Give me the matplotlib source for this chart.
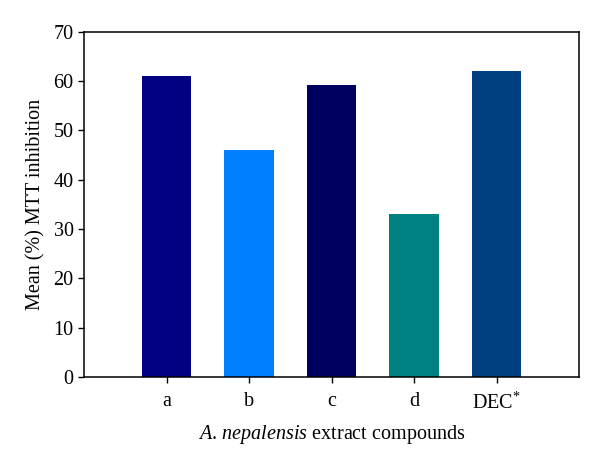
import matplotlib.pyplot as plt

compounds = ["a", "b", "c", "d", "DEC$^{*}$"]
inhibition = [61.0, 46.0, 59.2, 33.0, 62.0]
bar_colors = ["#000080", "#0080ff", "#000060", "#008080", "#004080"]

plt.rcParams["font.family"] = ["Liberation Serif", "DejaVu Serif"]
plt.rcParams["mathtext.fontset"] = "custom"
plt.rcParams["mathtext.rm"] = "Liberation Serif"
plt.rcParams["mathtext.it"] = "Liberation Serif:italic"

fig = plt.figure(figsize=(6, 4.62), dpi=100)
ax = fig.add_axes([0.14, 0.184, 0.825, 0.747])

x = list(range(1, len(compounds) + 1))
ax.bar(x, inhibition, width=0.6, color=bar_colors)

ax.set_xlim(0, 6)
ax.set_ylim(0, 70)
ax.set_yticks(range(0, 71, 10))
ax.set_xticks(x)
ax.set_xticklabels(compounds)

ax.tick_params(axis="both", direction="out", length=4, width=1, labelsize=14.5,
               top=False, right=False)
ax.tick_params(axis="x", pad=7)
for s in ax.spines.values():
    s.set_linewidth(1.1)

ax.set_ylabel("Mean (%) MTT inhibition", fontsize=14.5, labelpad=6)
ax.set_xlabel("$\\mathit{A.\\,nepalensis}$ extract compounds", fontsize=14.5, labelpad=7)

fig.savefig("out.png", dpi=100)
